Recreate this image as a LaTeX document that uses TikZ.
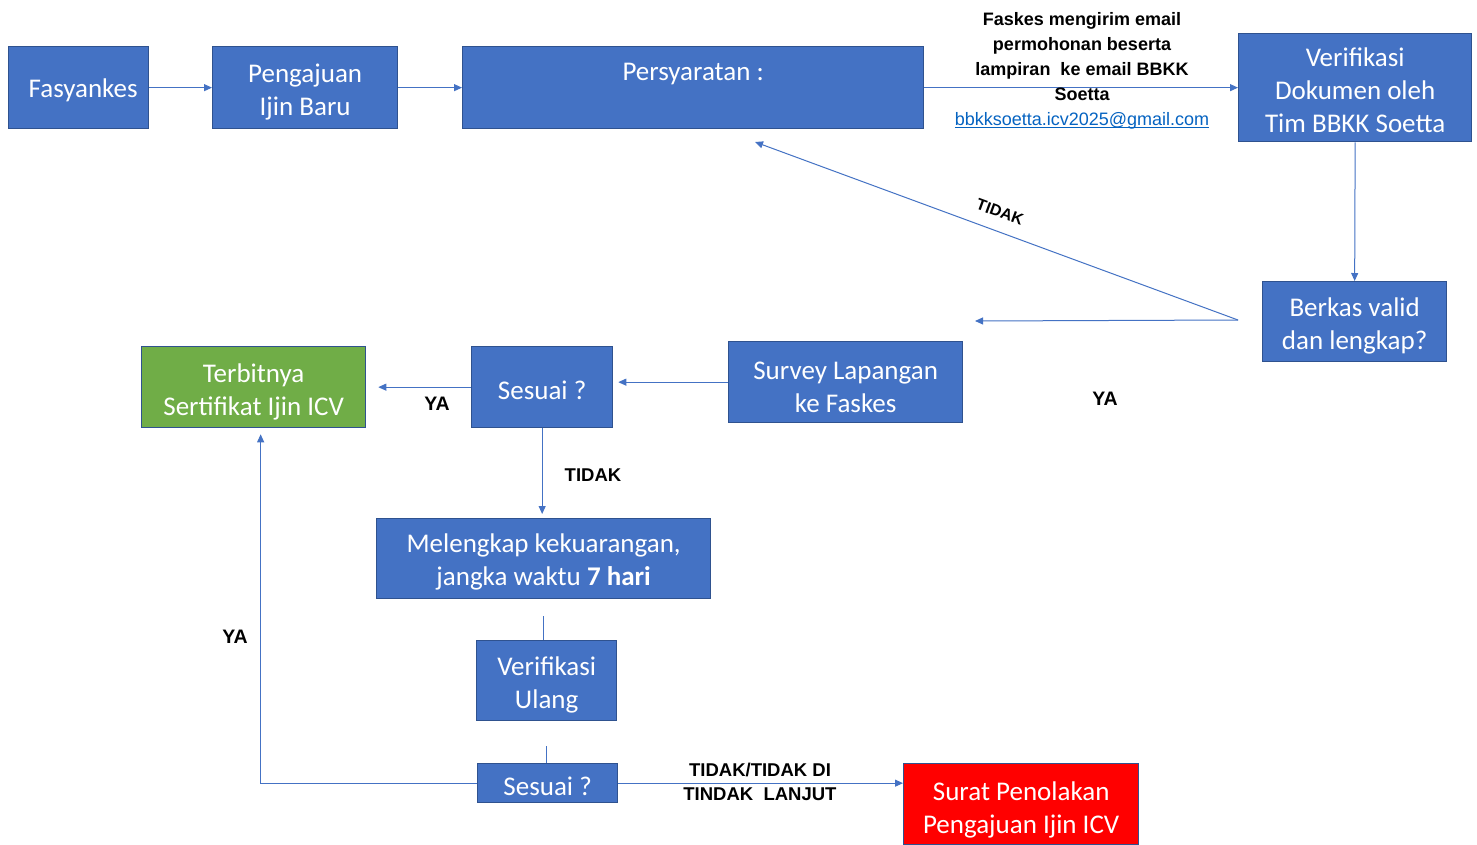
\documentclass[tikz,border=0pt]{standalone}
\usepackage{fontspec}
\setmainfont{Carlito}
\newfontfamily\arialf{Liberation Sans}
\usetikzlibrary{arrows.meta}
\definecolor{boxblue}{HTML}{4472C4}
\definecolor{boxedge}{HTML}{2F528F}
\definecolor{boxgreen}{HTML}{70AD47}
\definecolor{linkblue}{HTML}{0563C1}
\newcommand\linkul[1]{\setbox0\hbox{#1}\rlap{\rule[-2.2pt]{\wd0}{0.9pt}}\box0}
\newcommand\topstrut[1]{\rule{0pt}{#1}}
\begin{document}
\begin{tikzpicture}[x=1pt,y=-1pt,
  box/.style={draw=boxedge, line width=1.3pt, fill=boxblue, text=white,
    font=\fontsize{27}{33}\selectfont, align=center, inner sep=0pt, anchor=north west,
    execute at begin node={\rule{0pt}{25pt}}},
  conn/.style={draw=boxblue, line width=1pt},
  arr/.style={conn, -{Triangle[length=8pt,width=7pt]}},
  lab/.style={font=\arialf\bfseries\fontsize{18.5}{24}\selectfont, align=center, inner sep=0pt},
  yalab/.style={lab, font=\arialf\bfseries\fontsize{19.5}{24}\selectfont}]
\fill[white] (0,0) rectangle (1477,844);
\useasboundingbox (0,0) rectangle (1477,844);

\node[box, minimum width=140pt, minimum height=82pt] (fas) at (8,46) {\hspace*{9pt}Fasyankes};
\node[box, minimum width=185pt, minimum height=82pt] (peng) at (212,46) {\topstrut{27pt}Pengajuan\\Ijin Baru};
\node[box, minimum width=461pt, minimum height=82pt,
  label={[text=white, font=\fontsize{27}{33}\selectfont, anchor=north, yshift=-17pt, inner sep=0pt]north:Persyaratan :}] (pers) at (462,46) {};
\node[box, minimum width=233pt, minimum height=108pt] (ver) at (1238,33) {\topstrut{23pt}Verifikasi\\Dokumen oleh\\Tim BBKK Soetta};
\node[box, minimum width=184pt, minimum height=80pt] (berk) at (1262,281) {\topstrut{28pt}Berkas valid\\dan lengkap?};
\node[box, minimum width=234pt, minimum height=81pt] (surv) at (728,341) {\topstrut{27pt}Survey Lapangan\\ke Faskes};
\node[box, minimum width=141pt, minimum height=81pt] (ses) at (471,346) {Sesuai ?};
\node[box, fill=boxgreen, minimum width=224pt, minimum height=81pt] (terb) at (141,346) {\topstrut{28pt}Terbitnya\\Sertifikat Ijin ICV};
\node[box, minimum width=334pt, minimum height=80pt] (mel) at (376,518) {\topstrut{25pt}Melengkap kekuarangan,\\jangka waktu \textbf{7 hari}};
\node[box, minimum width=140pt, minimum height=80pt] (vul) at (476,640) {\topstrut{28pt}Verifikasi\\Ulang};
\node[box, minimum width=140pt, minimum height=39pt] (ses2) at (477,763) {Sesuai ?};
\node[box, fill=red, minimum width=235pt, minimum height=81pt] (sur) at (903,763) {\topstrut{30pt}Surat Penolakan\\Pengajuan Ijin ICV};

\coordinate (bstart) at (1238,320);
\coordinate (tend) at (755,142);
\coordinate (yend) at (975,321);

\draw[arr] (fas.east) -- (peng.west);
\draw[arr] (peng.east) -- (pers.west);
\draw[arr] (pers.east) -- (ver.west);
\draw[arr] (ver.south) -- (berk.north);
\draw[arr] (bstart) -- (tend);
\draw[arr] (bstart) -- (yend);
\draw[arr, shorten >=5pt] (surv.west) -- (surv.west -| ses.east);
\draw[arr, shorten >=12pt] (ses.west) -- (terb.east);
\draw[arr, shorten >=4pt] (ses.south) -- (ses.south |- mel.north);
\draw[conn, shorten <=17pt] (mel.south) -- (mel.south |- vul.north);
\draw[conn, shorten <=25pt] (vul.south) -- (vul.south |- ses2.north);
\draw[arr, shorten >=6pt] (ses2.west) -| ([xshift=7pt]terb.south);
\draw[arr] (ses2.east) -- (ses2.east -| sur.west);

\node[lab, font=\arialf\bfseries\fontsize{18}{25}\selectfont] (email) at (1082,71)
  {Faskes mengirim email\\permohonan beserta\\lampiran\ \ ke email BBKK\\Soetta\\{\mdseries\color{linkblue}\linkul{bbkksoetta.icv2025@gmail.com}}};
\node[lab, font=\arialf\bfseries\fontsize{16}{18}\selectfont, rotate=-20.2] (tidak1) at (1000,212) {TIDAK};
\node[yalab] (ya1) at (1105,399) {YA};
\node[yalab] (ya2) at (437,404) {YA};
\node[lab] (tidak2) at (593,475) {TIDAK};
\node[yalab] (ya3) at (235,637) {YA};
\node[lab] (tidak3) at (760,782) {TIDAK/TIDAK DI\\TINDAK\ \ LANJUT};
\end{tikzpicture}
\end{document}
